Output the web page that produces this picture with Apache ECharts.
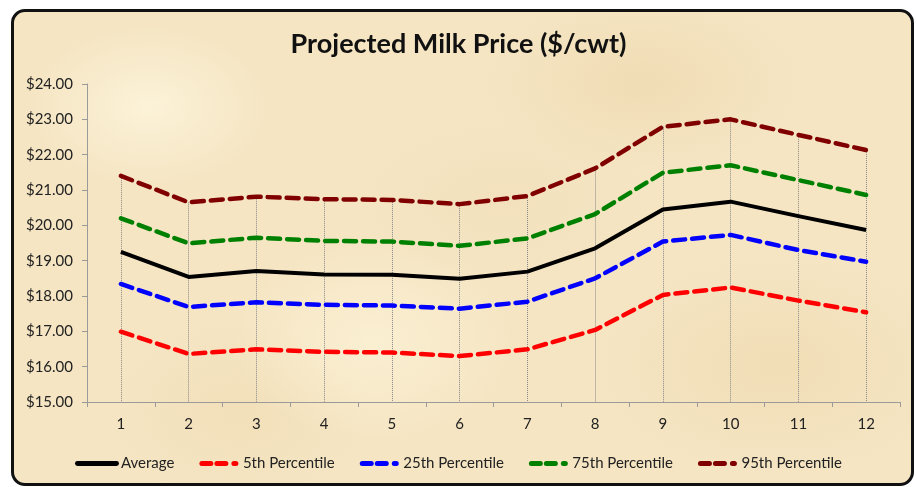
<!DOCTYPE html>
<html>
<head>
<meta charset="utf-8">
<script src="https://cdn.jsdelivr.net/npm/echarts@6/dist/echarts.min.js"></script>
<style>
  html, body { margin: 0; padding: 0; background: #fff; }
  #frame {
    position: absolute; left: 11px; top: 9px; width: 897px; height: 471px;
    border: 3px solid #111; border-radius: 14px; overflow: hidden;
    background-color: #f5e5c3;
    background-image:
      radial-gradient(ellipse 120px 80px at 15% 20%, rgba(255,248,225,0.7), transparent),
      radial-gradient(ellipse 160px 90px at 70% 15%, rgba(235,212,165,0.5), transparent),
      radial-gradient(ellipse 140px 100px at 40% 70%, rgba(255,246,220,0.6), transparent),
      radial-gradient(ellipse 180px 110px at 85% 75%, rgba(236,214,168,0.5), transparent),
      radial-gradient(ellipse 130px 90px at 25% 85%, rgba(238,218,175,0.5), transparent),
      radial-gradient(ellipse 150px 80px at 55% 40%, rgba(240,220,180,0.45), transparent);
  }
  #chart-container { position: absolute; left: 0; top: 0; width: 917px; height: 487px; }
</style>
</head>
<body>
<div id="frame"></div>
<div id="chart-container"></div>
<script>
// Data
const months = ['1', '2', '3', '4', '5', '6', '7', '8', '9', '10', '11', '12'];
const average = [19.25, 18.54, 18.71, 18.61, 18.60, 18.49, 18.69, 19.35, 20.45, 20.67, 20.26, 19.87];
const p5 = [16.99, 16.36, 16.49, 16.42, 16.40, 16.30, 16.49, 17.04, 18.03, 18.24, 17.87, 17.54];
const p25 = [18.34, 17.69, 17.82, 17.75, 17.73, 17.64, 17.84, 18.50, 19.54, 19.73, 19.30, 18.97];
const p75 = [20.20, 19.49, 19.65, 19.56, 19.54, 19.42, 19.63, 20.32, 21.49, 21.70, 21.28, 20.86];
const p95 = [21.40, 20.65, 20.81, 20.74, 20.72, 20.60, 20.83, 21.61, 22.79, 23.00, 22.56, 22.13];
const yMin = 15, yMax = 24, yStep = 1;

const chartContainer = document.getElementById('chart-container');
const myChart = echarts.init(chartContainer);

const font = 'Lato, "Open Sans", sans-serif';

// legend icons: solid bar and "dash dash dot"
const solidIcon = 'path://M2,0h40a2,2 0 0 1 0,5h-40a2,2 0 0 1 0,-5z';
const dashIcon = 'path://M2,0h9a2,2 0 0 1 0,5h-9a2,2 0 0 1 0,-5z' +
  'M17,0h9a2,2 0 0 1 0,5h-9a2,2 0 0 1 0,-5z' +
  'M34,0h2a2,2 0 0 1 0,5h-2a2,2 0 0 1 0,-5z';

function lineSeries(name, data, color, dashed) {
  return {
    name: name,
    type: 'line',
    data: data,
    symbol: 'none',
    smooth: false,
    lineStyle: {
      color: color,
      width: dashed ? 4.5 : 4,
      type: dashed ? [12, 7] : 'solid',
      cap: dashed ? 'round' : 'butt',
      join: 'round'
    },
    itemStyle: { color: color },
    z: 3
  };
}

// drop lines from the top series down to the axis
const dropLines = p95.map((v, i) => [
  { coord: [i, v] },
  { coord: [i, yMin] }
]);

const series = [
  lineSeries('Average', average, '#000000', false),
  lineSeries('5th Percentile', p5, '#ff0000', true),
  lineSeries('25th Percentile', p25, '#0000ff', true),
  lineSeries('75th Percentile', p75, '#008000', true),
  lineSeries('95th Percentile', p95, '#800000', true)
];
series[4].markLine = {
  silent: true,
  symbol: 'none',
  label: { show: false },
  lineStyle: { color: '#8a8a8a', type: [1, 1], width: 1 },
  data: dropLines,
  z: 1
};

const option = {
  backgroundColor: 'transparent',
  animation: false,
  title: {
    text: 'Projected Milk Price ($/cwt)',
    left: 'center',
    top: 26,
    textStyle: { fontFamily: font, fontSize: 27, fontWeight: 'bold', color: '#111' }
  },
  legend: {
    data: [
      { name: 'Average', icon: solidIcon },
      { name: '5th Percentile', icon: dashIcon },
      { name: '25th Percentile', icon: dashIcon },
      { name: '75th Percentile', icon: dashIcon },
      { name: '95th Percentile', icon: dashIcon }
    ],
    left: 'center',
    top: 451,
    itemWidth: 44,
    itemHeight: 5,
    itemGap: 25,
    textStyle: { fontFamily: font, fontSize: 15, color: '#222', padding: [0, 0, 0, -3] }
  },
  grid: { left: 87, right: 17, top: 84, bottom: 85 },
  xAxis: {
    type: 'category',
    data: months,
    boundaryGap: true,
    axisLine: { lineStyle: { color: '#9a9a9a', width: 1 } },
    axisTick: { show: true, length: 5, lineStyle: { color: '#9a9a9a' } },
    axisLabel: { fontFamily: font, fontSize: 15, color: '#222', margin: 15 },
    splitLine: { show: false }
  },
  yAxis: {
    type: 'value',
    min: yMin,
    max: yMax,
    interval: yStep,
    axisLine: { show: true, lineStyle: { color: '#9a9a9a', width: 1 } },
    axisTick: { show: true, length: 5, lineStyle: { color: '#9a9a9a' } },
    axisLabel: {
      fontFamily: font, fontSize: 15, color: '#222', margin: 14,
      formatter: v => '$' + v.toFixed(2)
    },
    splitLine: { show: false }
  },
  series: series
};

myChart.setOption(option);
</script>
</body>
</html>
